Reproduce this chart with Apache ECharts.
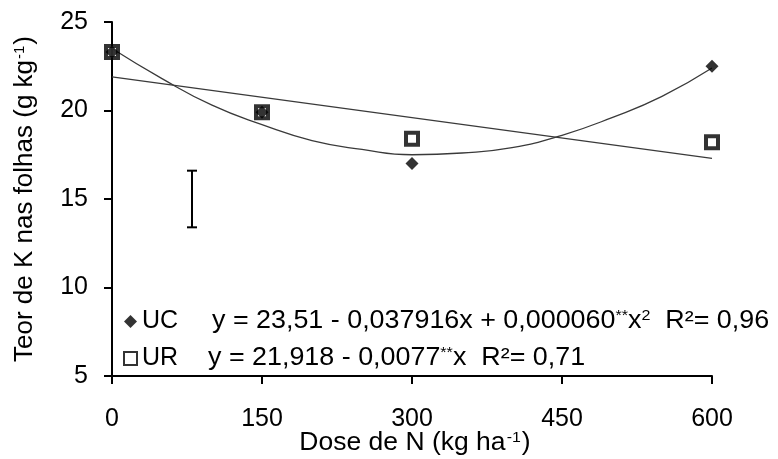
<!DOCTYPE html>
<html>
<head>
<meta charset="utf-8">
<script src="https://cdn.jsdelivr.net/npm/echarts@6/dist/echarts.min.js"></script>
<style>
  html, body { margin: 0; padding: 0; background: #fff; }
  #main { width: 778px; height: 459px; }
</style>
</head>
<body>
<div id="main"></div>
<script>
// doses (kg/ha) and observed means
var doses = [0, 150, 300, 600];
var ucValues = [23.3, 19.9, 17.0, 22.5];
var urValues = [23.3, 19.9, 18.4, 18.2];

// fitted curves
var ucFitX = [0, 50, 100, 150, 200, 250, 300, 350, 400, 450, 500, 550, 600];
var ucFitY = [23.5, 21.8, 20.3, 19.2, 18.3, 17.8, 17.5, 17.6, 17.9, 18.6, 19.6, 20.8, 22.4];
var urFitX = [0, 600];
var urFitY = [21.9, 17.3];

// least significant difference bar: [x, low, high]
var lsdBar = [[80, 13.4, 16.6]];

var xTicks = [0, 150, 300, 450, 600];
var yTicks = [5, 10, 15, 20, 25];

function pairs(xs, ys) {
  return xs.map(function (x, i) { return [x, ys[i]]; });
}

var font = '"Liberation Sans", Arial, sans-serif';
var chart = echarts.init(document.getElementById('main'));

var eqRich = {
  t: { fontSize: 25, fontFamily: font, fill: '#000' },
  s: { fontSize: 15, fontFamily: font, fill: '#000', verticalAlign: 'top' }
};
var nameRich = {
  t: { fontSize: 25, fontFamily: font, fill: '#000' },
  s: { fontSize: 15, fontFamily: font, fill: '#000', verticalAlign: 'top', padding: [0, 1, 0, 1] }
};

var option = {
  backgroundColor: '#fff',
  animation: false,
  textStyle: { fontFamily: font, color: '#000' },
  grid: { left: 112, right: 66, top: 22, bottom: 83, outerBoundsMode: 'none', containLabel: false },
  legend: {
    data: ['UC', 'UR'],
    orient: 'vertical',
    left: 123,
    top: 309,
    padding: 0,
    itemWidth: 13,
    itemHeight: 13,
    itemGap: 12,
    textStyle: { fontSize: 25, color: '#000', fontFamily: font }
  },
  xAxis: {
    type: 'value',
    min: xTicks[0],
    max: xTicks[xTicks.length - 1],
    interval: 150,
    axisLine: { lineStyle: { color: '#000', width: 2 } },
    axisTick: { inside: false, length: 8, lineStyle: { color: '#000', width: 2 } },
    axisLabel: { fontSize: 25, color: '#000', margin: 31 },
    splitLine: { show: false }
  },
  yAxis: {
    type: 'value',
    min: yTicks[0],
    max: yTicks[yTicks.length - 1],
    interval: 5,
    name: '{t|Teor de K nas folhas (g kg}{s|-1}{t|)}',
    nameLocation: 'middle',
    nameRotate: 90,
    nameGap: 74,
    nameTextStyle: {
      rich: {
        t: { fontSize: 26, fontFamily: font, color: '#000' },
        s: { fontSize: 15, fontFamily: font, color: '#000', verticalAlign: 'top', padding: [0, 1, 0, 1] }
      }
    },
    axisLine: { show: true, lineStyle: { color: '#000', width: 2 } },
    axisTick: { show: true, length: 8, lineStyle: { color: '#000', width: 2 } },
    axisLabel: { fontSize: 25, color: '#000', margin: 24 },
    splitLine: { show: false }
  },
  series: [
    {
      name: 'UC fit',
      type: 'line',
      smooth: true,
      symbol: 'none',
      data: pairs(ucFitX, ucFitY),
      lineStyle: { color: '#3a3a3a', width: 1.3 },
      z: 2
    },
    {
      name: 'UR fit',
      type: 'line',
      symbol: 'none',
      data: pairs(urFitX, urFitY),
      lineStyle: { color: '#3a3a3a', width: 1.3 },
      z: 2
    },
    {
      name: 'UR',
      type: 'scatter',
      symbol: 'rect',
      symbolSize: 12,
      data: pairs(doses, urValues),
      itemStyle: { color: '#fff', borderColor: '#000', borderWidth: 4 },
      z: 3
    },
    {
      name: 'UC',
      type: 'scatter',
      symbol: 'diamond',
      symbolSize: 13,
      data: pairs(doses, ucValues),
      itemStyle: { color: '#000' },
      z: 4
    },
    {
      name: 'DMS',
      type: 'custom',
      data: lsdBar,
      renderItem: function (params, api) {
        var lo = api.coord([api.value(0), api.value(1)]);
        var hi = api.coord([api.value(0), api.value(2)]);
        var w = 5;
        var st = { stroke: '#000', lineWidth: 2 };
        return {
          type: 'group',
          children: [
            { type: 'line', shape: { x1: lo[0], y1: lo[1], x2: hi[0], y2: hi[1] }, style: st },
            { type: 'line', shape: { x1: lo[0] - w, y1: lo[1], x2: lo[0] + w, y2: lo[1] }, style: st },
            { type: 'line', shape: { x1: hi[0] - w, y1: hi[1], x2: hi[0] + w, y2: hi[1] }, style: st }
          ]
        };
      },
      z: 3
    }
  ],
  graphic: [
    {
      type: 'text',
      x: 212,
      y: 321,
      scaleX: 1.075,
      style: {
        text: '{t|y = 23,51 - 0,037916x + 0,000060}{s|**}{t|x}{s|2}{t|  R²= 0,96}',
        verticalAlign: 'middle',
        rich: eqRich
      }
    },
    {
      type: 'text',
      x: 208,
      y: 358,
      scaleX: 1.075,
      style: {
        text: '{t|y = 21,918 - 0,0077}{s|**}{t|x  R²= 0,71}',
        verticalAlign: 'middle',
        rich: eqRich
      }
    },
    {
      // x axis title
      type: 'text',
      x: 415,
      y: 443,
      scaleX: 1.06,
      style: {
        text: '{t|Dose de N (kg ha}{s|-1}{t|)}',
        align: 'center',
        verticalAlign: 'middle',
        rich: nameRich
      }
    }
  ]
};

chart.setOption(option);
</script>
</body>
</html>
